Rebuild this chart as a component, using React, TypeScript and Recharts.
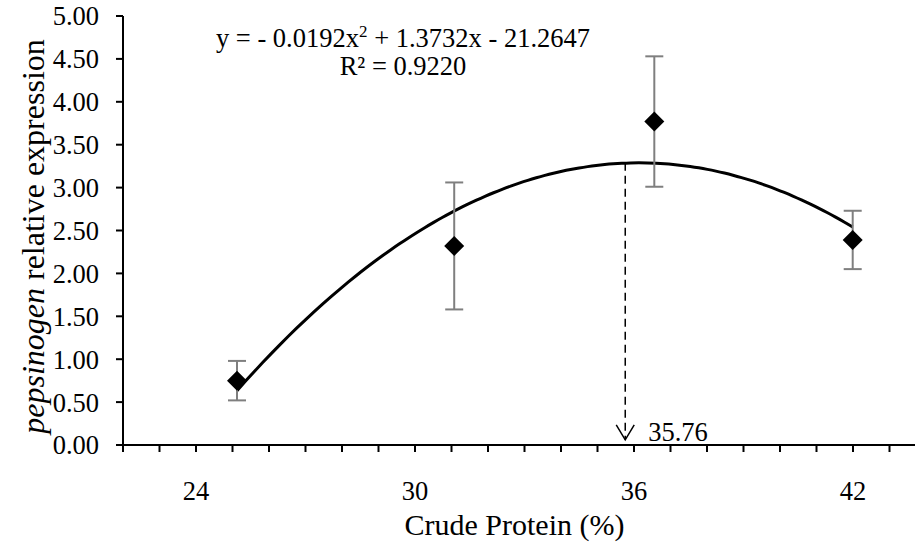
import React from "react";
import {
  ComposedChart,
  XAxis,
  YAxis,
  Scatter,
  Line,
  ErrorBar,
  ReferenceLine,
} from "recharts";

// measured crude protein levels, relative expression and SD
const cpLevels = [24, 30.35, 36.2, 42];
const expression = [0.75, 2.32, 3.77, 2.39];
const expressionSd = [0.23, 0.74, 0.76, 0.34];

// quadratic trend reported for the series
const COEF_A = -0.0192;
const COEF_B = 1.3732;
const COEF_C = -21.2647;
const R_SQUARED = "0.9220";
const OPTIMUM_CP = 35.76;

const xTicks = [22, 23, 24, 25, 26, 27, 28, 29, 30, 31, 32, 33, 34, 35, 36, 37, 38, 39, 40, 41, 42, 43, 44];
const xLabelled = [24, 30, 36, 42];
const yTicks = [0, 0.5, 1, 1.5, 2, 2.5, 3, 3.5, 4, 4.5, 5];

const FONT = "'Liberation Serif', 'Times New Roman', serif";
const TICK_SIZE = 26.5;
const TITLE_SIZE = 30;

const points = cpLevels.map((x, i) => ({ x, y: expression[i], sd: expressionSd[i] }));

const trend = (x: number) => COEF_A * x * x + COEF_B * x + COEF_C;

const curve: { x: number; y: number }[] = [];
for (let x = cpLevels[0]; x <= cpLevels[cpLevels.length - 1] + 1e-9; x += 0.25) {
  curve.push({ x, y: trend(x) });
}
const peakY = trend(OPTIMUM_CP);

function Diamond(props: any) {
  const { cx, cy } = props;
  const r = 10;
  return (
    <path
      d={`M${cx},${cy - r}L${cx + r},${cy}L${cx},${cy + r}L${cx - r},${cy}Z`}
      fill="#000"
    />
  );
}

function XTick(props: any) {
  const { x, y, payload } = props;
  if (!xLabelled.includes(payload.value)) return <g />;
  return (
    <text x={x} y={y} dy={46} textAnchor="middle" fontFamily={FONT} fontSize={TICK_SIZE} fill="#000">
      {payload.value}
    </text>
  );
}

function OptimumArrow(props: any) {
  const { x1, y1, x2, y2 } = props;
  return (
    <g>
      <line x1={x1} y1={y1} x2={x2} y2={y2} stroke="#000" strokeWidth={1.5} strokeDasharray="8 5" />
      <path
        d={`M${x2 - 9},${y2 - 15}L${x2},${y2}L${x2 + 9},${y2 - 15}`}
        fill="none"
        stroke="#000"
        strokeWidth={1.5}
      />
      <text x={x2 + 23} y={y2 + 1} fontFamily={FONT} fontSize={TICK_SIZE} fill="#000">
        {OPTIMUM_CP.toFixed(2)}
      </text>
    </g>
  );
}

export default function App() {
  return (
    <div
      style={{
        position: "absolute",
        left: 0,
        top: 0,
        width: 915,
        height: 546,
        overflow: "hidden",
        background: "#fff",
      }}
    >
      <ComposedChart width={930} height={546} margin={{ top: 16, right: 4, left: 0, bottom: 0 }}>
        <XAxis
          xAxisId="main"
          dataKey="x"
          type="number"
          domain={[22, 44]}
          allowDataOverflow
          ticks={xTicks}
          interval={0}
          tickSize={7}
          tick={<XTick />}
          axisLine={{ stroke: "#000", strokeWidth: 2 }}
          tickLine={{ stroke: "#000", strokeWidth: 2 }}
          height={101}
          label={{
            content: ({ viewBox }: any) => (
              <text
                x={viewBox.x + viewBox.width / 2 - 10}
                y={viewBox.y + 90}
                textAnchor="middle"
                fontFamily={FONT}
                fontSize={TITLE_SIZE}
                fill="#000"
              >
                Crude Protein (%)
              </text>
            ),
          }}
        />
        <XAxis
          xAxisId="fit"
          dataKey="x"
          type="number"
          domain={[20.667, 44.143]}
          allowDataOverflow
          height={0}
          hide
        />
        <YAxis
          yAxisId="expr"
          type="number"
          domain={[0, 5]}
          allowDataOverflow
          ticks={yTicks}
          interval={0}
          width={123}
          tickSize={7}
          tickMargin={17}
          tickFormatter={(v: number) => v.toFixed(2)}
          tick={{ fontFamily: FONT, fontSize: TICK_SIZE, fill: "#000" }}
          axisLine={{ stroke: "#000", strokeWidth: 2 }}
          tickLine={{ stroke: "#000", strokeWidth: 2 }}
          label={{
            content: ({ viewBox }: any) => {
              const cx = 33;
              const cy = viewBox.y + viewBox.height / 2 + 6;
              return (
                <text
                  x={cx}
                  y={cy}
                  transform={`rotate(-90 ${cx} ${cy})`}
                  textAnchor="middle"
                  dominantBaseline="central"
                  fontFamily={FONT}
                  fontSize={32}
                  fill="#000"
                >
                  <tspan fontStyle="italic">pepsinogen</tspan> relative expression
                </text>
              );
            },
          }}
        />

        <Line
          data={curve}
          xAxisId="fit"
          yAxisId="expr"
          dataKey="y"
          type="monotone"
          stroke="#000"
          strokeWidth={3}
          dot={false}
          activeDot={false}
          isAnimationActive={false}
        />

        <Scatter
          data={points}
          xAxisId="fit"
          yAxisId="expr"
          dataKey="y"
          shape={<Diamond />}
          isAnimationActive={false}
        >
          <ErrorBar dataKey="sd" direction="y" width={9} stroke="#7f7f7f" strokeWidth={2} />
        </Scatter>

        <ReferenceLine
          xAxisId="main"
          yAxisId="expr"
          segment={[
            { x: OPTIMUM_CP, y: peakY },
            { x: OPTIMUM_CP, y: 0.06 },
          ]}
          shape={<OptimumArrow />}
          ifOverflow="visible"
        />

        <text x={403} y={47} textAnchor="middle" fontFamily={FONT} fontSize={TICK_SIZE} fill="#000">
          {`y = - ${Math.abs(COEF_A).toFixed(4)}x`}
          <tspan fontSize={17} dy={-10}>2</tspan>
          <tspan dy={10}>{` + ${COEF_B.toFixed(4)}x - ${Math.abs(COEF_C).toFixed(4)}`}</tspan>
        </text>
        <text x={403} y={75} textAnchor="middle" fontFamily={FONT} fontSize={TICK_SIZE} fill="#000">
          {`R² = ${R_SQUARED}`}
        </text>
      </ComposedChart>
    </div>
  );
}
